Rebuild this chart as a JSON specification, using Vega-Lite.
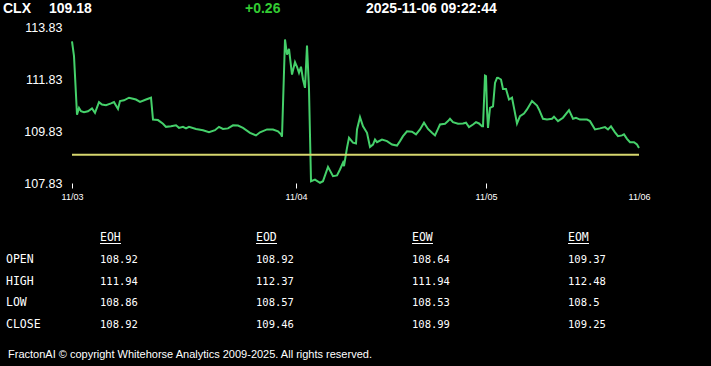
{
  "$schema": "https://vega.github.io/schema/vega-lite/v6.json",
  "width": 567,
  "height": 156,
  "autosize": {"type": "none"},
  "padding": {"left": 72, "right": 72, "top": 27, "bottom": 183},
  "background": "#000000",
  "config": {"view": {"stroke": null}},
  "datasets": {
    "price": [
      {"bar": 0, "p": 113.28}, {"bar": 2, "p": 112.71}, {"bar": 5, "p": 110.46}, {"bar": 7, "p": 110.72},
      {"bar": 9, "p": 110.59}, {"bar": 12, "p": 110.55}, {"bar": 16, "p": 110.59}, {"bar": 20, "p": 110.70},
      {"bar": 23, "p": 110.53}, {"bar": 27, "p": 110.94}, {"bar": 30, "p": 110.85}, {"bar": 34, "p": 110.82},
      {"bar": 39, "p": 110.89}, {"bar": 42, "p": 110.94}, {"bar": 46, "p": 110.68}, {"bar": 48, "p": 110.98},
      {"bar": 52, "p": 111.01}, {"bar": 57, "p": 111.11}, {"bar": 61, "p": 111.07}, {"bar": 64, "p": 111.04},
      {"bar": 68, "p": 110.95}, {"bar": 74, "p": 111.04}, {"bar": 79, "p": 111.11}, {"bar": 81, "p": 110.27},
      {"bar": 86, "p": 110.25}, {"bar": 91, "p": 110.11}, {"bar": 94, "p": 109.99}, {"bar": 99, "p": 110.01},
      {"bar": 104, "p": 110.05}, {"bar": 107, "p": 109.95}, {"bar": 111, "p": 109.99}, {"bar": 114, "p": 109.93},
      {"bar": 117, "p": 109.99}, {"bar": 124, "p": 109.91}, {"bar": 131, "p": 109.86}, {"bar": 137, "p": 109.78},
      {"bar": 143, "p": 109.86}, {"bar": 147, "p": 109.99}, {"bar": 151, "p": 109.91}, {"bar": 156, "p": 109.93},
      {"bar": 161, "p": 110.05}, {"bar": 166, "p": 110.04}, {"bar": 171, "p": 109.95}, {"bar": 178, "p": 109.76},
      {"bar": 184, "p": 109.66}, {"bar": 188, "p": 109.78}, {"bar": 195, "p": 109.89}, {"bar": 201, "p": 109.89},
      {"bar": 206, "p": 109.82}, {"bar": 209, "p": 109.70}, {"bar": 210, "p": 109.61}, {"bar": 213, "p": 113.35},
      {"bar": 215, "p": 112.77}, {"bar": 217, "p": 112.99}, {"bar": 220, "p": 112.00}, {"bar": 223, "p": 112.48},
      {"bar": 225, "p": 112.30}, {"bar": 227, "p": 112.07}, {"bar": 229, "p": 112.30}, {"bar": 231, "p": 111.81},
      {"bar": 233, "p": 111.49}, {"bar": 235, "p": 113.12}, {"bar": 237, "p": 111.43}, {"bar": 239, "p": 107.90},
      {"bar": 243, "p": 107.96}, {"bar": 248, "p": 107.84}, {"bar": 251, "p": 107.90}, {"bar": 256, "p": 108.45},
      {"bar": 261, "p": 108.09}, {"bar": 265, "p": 108.12}, {"bar": 268, "p": 108.35}, {"bar": 271, "p": 108.61},
      {"bar": 272, "p": 108.48}, {"bar": 275, "p": 109.18}, {"bar": 277, "p": 109.57}, {"bar": 281, "p": 109.38},
      {"bar": 284, "p": 109.35}, {"bar": 285, "p": 109.89}, {"bar": 288, "p": 110.36}, {"bar": 291, "p": 110.01},
      {"bar": 295, "p": 109.76}, {"bar": 298, "p": 109.22}, {"bar": 301, "p": 109.31}, {"bar": 303, "p": 109.50},
      {"bar": 305, "p": 109.40}, {"bar": 310, "p": 109.50}, {"bar": 315, "p": 109.44}, {"bar": 320, "p": 109.31},
      {"bar": 325, "p": 109.27}, {"bar": 328, "p": 109.44}, {"bar": 331, "p": 109.63}, {"bar": 335, "p": 109.82},
      {"bar": 340, "p": 109.80}, {"bar": 344, "p": 109.70}, {"bar": 348, "p": 109.89}, {"bar": 352, "p": 110.15},
      {"bar": 356, "p": 109.91}, {"bar": 360, "p": 109.76}, {"bar": 363, "p": 109.66}, {"bar": 366, "p": 109.91},
      {"bar": 368, "p": 110.08}, {"bar": 373, "p": 110.11}, {"bar": 376, "p": 110.21}, {"bar": 378, "p": 110.30},
      {"bar": 381, "p": 110.17}, {"bar": 386, "p": 110.11}, {"bar": 391, "p": 110.12}, {"bar": 394, "p": 110.15},
      {"bar": 397, "p": 109.98}, {"bar": 401, "p": 110.08}, {"bar": 404, "p": 110.17}, {"bar": 407, "p": 110.12},
      {"bar": 410, "p": 110.01}, {"bar": 411, "p": 110.01}, {"bar": 413, "p": 111.96}, {"bar": 414, "p": 111.94},
      {"bar": 415, "p": 110.66}, {"bar": 416, "p": 109.95}, {"bar": 418, "p": 110.72}, {"bar": 421, "p": 110.78},
      {"bar": 423, "p": 111.68}, {"bar": 425, "p": 111.87}, {"bar": 426, "p": 111.88}, {"bar": 429, "p": 111.81},
      {"bar": 431, "p": 111.45}, {"bar": 434, "p": 111.45}, {"bar": 437, "p": 111.04}, {"bar": 440, "p": 111.11},
      {"bar": 442, "p": 110.72}, {"bar": 445, "p": 110.12}, {"bar": 448, "p": 110.40}, {"bar": 452, "p": 110.50},
      {"bar": 455, "p": 110.66}, {"bar": 460, "p": 110.98}, {"bar": 465, "p": 110.81}, {"bar": 467, "p": 110.66},
      {"bar": 471, "p": 110.30}, {"bar": 475, "p": 110.27}, {"bar": 480, "p": 110.30}, {"bar": 482, "p": 110.38},
      {"bar": 486, "p": 110.21}, {"bar": 491, "p": 110.34}, {"bar": 497, "p": 110.63}, {"bar": 501, "p": 110.30},
      {"bar": 504, "p": 110.34}, {"bar": 508, "p": 110.27}, {"bar": 515, "p": 110.27}, {"bar": 518, "p": 110.21},
      {"bar": 523, "p": 109.89}, {"bar": 528, "p": 109.93}, {"bar": 533, "p": 109.98}, {"bar": 536, "p": 109.89},
      {"bar": 539, "p": 110.01}, {"bar": 543, "p": 109.78}, {"bar": 546, "p": 109.63}, {"bar": 550, "p": 109.66},
      {"bar": 552, "p": 109.70}, {"bar": 555, "p": 109.53}, {"bar": 558, "p": 109.40}, {"bar": 562, "p": 109.40},
      {"bar": 565, "p": 109.31}, {"bar": 567, "p": 109.18}
    ],
    "stats": [
      {"r": "OPEN", "c": "EOH", "v": "108.92"}, {"r": "OPEN", "c": "EOD", "v": "108.92"},
      {"r": "OPEN", "c": "EOW", "v": "108.64"}, {"r": "OPEN", "c": "EOM", "v": "109.37"},
      {"r": "HIGH", "c": "EOH", "v": "111.94"}, {"r": "HIGH", "c": "EOD", "v": "112.37"},
      {"r": "HIGH", "c": "EOW", "v": "111.94"}, {"r": "HIGH", "c": "EOM", "v": "112.48"},
      {"r": "LOW", "c": "EOH", "v": "108.86"}, {"r": "LOW", "c": "EOD", "v": "108.57"},
      {"r": "LOW", "c": "EOW", "v": "108.53"}, {"r": "LOW", "c": "EOM", "v": "108.5"},
      {"r": "CLOSE", "c": "EOH", "v": "108.92"}, {"r": "CLOSE", "c": "EOD", "v": "109.46"},
      {"r": "CLOSE", "c": "EOW", "v": "108.99"}, {"r": "CLOSE", "c": "EOM", "v": "109.25"}
    ]
  },
  "layer": [
    {
      "layer": [
        {
          "data": {"name": "price"},
          "mark": {"type": "line", "color": "#45d06a", "strokeWidth": 2, "interpolate": "linear"},
          "encoding": {
            "x": {
              "field": "bar", "type": "quantitative",
              "scale": {"domain": [0, 567], "nice": false, "zero": false},
              "axis": {
                "values": [0, 224, 414, 567],
                "labelExpr": "datum.value == 0 ? '11/03' : datum.value == 224 ? '11/04' : datum.value == 414 ? '11/05' : '11/06'",
                "title": null, "grid": false, "domain": false,
                "tickSize": 5, "tickWidth": 1,
                "tickColor": {"condition": {"test": "datum.value == 567", "value": "transparent"}, "value": "#ffffff"},
                "labelColor": "#ffffff", "labelFont": "Liberation Sans", "labelFontSize": 9,
                "labelPadding": 4, "labelFlush": false, "labelOverlap": false
              }
            },
            "y": {
              "field": "p", "type": "quantitative",
              "scale": {"domain": [107.83, 113.83], "nice": false, "zero": false},
              "axis": {
                "values": [107.83, 109.83, 111.83, 113.83], "format": ".2f",
                "title": null, "grid": false, "domain": false, "ticks": false,
                "labelColor": "#ffffff", "labelFont": "Liberation Sans", "labelFontSize": 12.5,
                "labelPadding": 10, "labelOverlap": false
              }
            }
          }
        },
        {
          "data": {"values": [{"ref": "prev"}]},
          "mark": {"type": "rule", "color": "#d6d66e", "strokeWidth": 2},
          "encoding": {"y": {"datum": 108.92, "type": "quantitative"}}
        }
      ]
    },
    {
      "data": {"values": [{"f": "symbol", "t": "CLX"}, {"f": "last", "t": "109.18"}]},
      "mark": {"type": "text", "align": "left", "baseline": "middle", "font": "Liberation Sans", "fontWeight": "bold", "fontSize": 14, "color": "#ffffff"},
      "encoding": {
        "x": {"field": "f", "type": "nominal", "scale": {"type": "point", "domain": ["symbol", "last"], "range": [-69, -23], "padding": 0}, "axis": null},
        "y": {"datum": "top", "type": "nominal", "scale": {"type": "point", "domain": ["top"], "range": [-18, -18]}, "axis": null},
        "text": {"field": "t"}
      }
    },
    {
      "data": {"values": [{"f": "change", "t": "+0.26"}, {"f": "time", "t": "2025-11-06 09:22:44"}]},
      "mark": {"type": "text", "align": "left", "baseline": "middle", "font": "Liberation Sans", "fontWeight": "bold", "fontSize": 14},
      "encoding": {
        "x": {"field": "f", "type": "nominal", "scale": {"type": "point", "domain": ["change", "time"], "range": [173, 294], "padding": 0}, "axis": null},
        "y": {"datum": "top", "type": "nominal", "scale": {"type": "point", "domain": ["top"], "range": [-18, -18]}, "axis": null},
        "color": {"field": "f", "type": "nominal", "scale": {"domain": ["change", "time"], "range": ["#33cc33", "#ffffff"]}, "legend": null},
        "text": {"field": "t"}
      }
    },
    {
      "data": {"values": [{"c": "EOH"}, {"c": "EOD"}, {"c": "EOW"}, {"c": "EOM"}]},
      "mark": {"type": "text", "align": "left", "baseline": "middle", "font": "DejaVu Sans Mono", "fontSize": 11.5, "color": "#ffffff"},
      "encoding": {
        "x": {"field": "c", "type": "nominal", "scale": {"type": "point", "domain": ["EOH", "EOD", "EOW", "EOM"], "range": [28, 496], "padding": 0}, "axis": null},
        "y": {"datum": "hdr", "type": "nominal", "scale": {"type": "point", "domain": ["hdr", "OPEN", "HIGH", "LOW", "CLOSE"], "range": [211, 298], "padding": 0}, "axis": null},
        "text": {"field": "c"}
      }
    },
    {
      "data": {"values": [{"c": "EOH"}, {"c": "EOD"}, {"c": "EOW"}, {"c": "EOM"}]},
      "mark": {"type": "tick", "orient": "horizontal", "color": "#ffffff", "thickness": 1, "size": 21, "xOffset": 10.5, "yOffset": 5.5, "opacity": 1},
      "encoding": {
        "x": {"field": "c", "type": "nominal", "scale": {"type": "point", "domain": ["EOH", "EOD", "EOW", "EOM"], "range": [28, 496], "padding": 0}, "axis": null},
        "y": {"datum": "hdr", "type": "nominal", "scale": {"type": "point", "domain": ["hdr", "OPEN", "HIGH", "LOW", "CLOSE"], "range": [211, 298], "padding": 0}, "axis": null}
      }
    },
    {
      "data": {"name": "stats"},
      "mark": {"type": "text", "align": "left", "baseline": "middle", "font": "DejaVu Sans Mono", "fontSize": 10.5, "color": "#ffffff"},
      "encoding": {
        "x": {"field": "c", "type": "nominal", "scale": {"type": "point", "domain": ["EOH", "EOD", "EOW", "EOM"], "range": [28, 496], "padding": 0}, "axis": null},
        "y": {"field": "r", "type": "nominal", "scale": {"type": "point", "domain": ["hdr", "OPEN", "HIGH", "LOW", "CLOSE"], "range": [211, 298], "padding": 0}, "axis": null},
        "text": {"field": "v"}
      }
    },
    {
      "data": {"values": [{"r": "OPEN"}, {"r": "HIGH"}, {"r": "LOW"}, {"r": "CLOSE"}]},
      "mark": {"type": "text", "align": "left", "baseline": "middle", "font": "DejaVu Sans Mono", "fontSize": 11.5, "color": "#ffffff"},
      "encoding": {
        "x": {"datum": "label", "type": "nominal", "scale": {"type": "point", "domain": ["label"], "range": [-66, -66]}, "axis": null},
        "y": {"field": "r", "type": "nominal", "scale": {"type": "point", "domain": ["hdr", "OPEN", "HIGH", "LOW", "CLOSE"], "range": [211, 298], "padding": 0}, "axis": null},
        "text": {"field": "r"}
      }
    },
    {
      "data": {"values": [{"t": "FractonAI © copyright Whitehorse Analytics 2009-2025. All rights reserved."}]},
      "mark": {"type": "text", "align": "left", "baseline": "middle", "font": "Liberation Sans", "fontSize": 11, "color": "#ffffff"},
      "encoding": {
        "x": {"datum": "footer", "type": "nominal", "scale": {"type": "point", "domain": ["footer"], "range": [-64, -64]}, "axis": null},
        "y": {"datum": "footer", "type": "nominal", "scale": {"type": "point", "domain": ["footer"], "range": [328, 328]}, "axis": null},
        "text": {"field": "t"}
      }
    }
  ],
  "resolve": {"scale": {"x": "independent", "y": "independent", "color": "independent"}}
}
